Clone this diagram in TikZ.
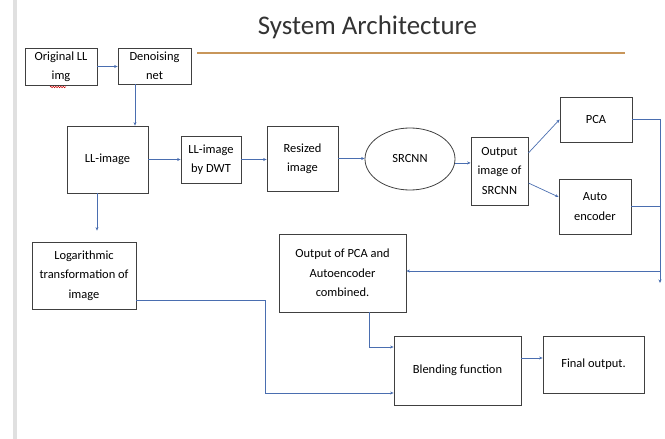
\documentclass[tikz,border=0pt]{standalone}
\usepackage{fontspec}
\setmainfont{Carlito}
\usetikzlibrary{arrows.meta,shapes.geometric,decorations.pathmorphing}
\definecolor{boxline}{RGB}{64,64,64}
\definecolor{conn}{RGB}{74,110,176}
\definecolor{rule}{RGB}{200,150,90}
\definecolor{sidebar}{RGB}{224,224,224}
\tikzset{
  blk/.style={draw=boxline,line width=0.8bp,rectangle,inner sep=0pt,align=center,
    font=\fontsize{12.5}{19.5}\selectfont},
  arr/.style={draw=conn,line width=0.7bp,-{Stealth[length=3.5bp,width=3bp]}},
  ln/.style={draw=conn,line width=0.7bp},
}
\begin{document}
\begin{tikzpicture}[x=1bp,y=-1bp]
\useasboundingbox (0,0) rectangle (665,439);
\fill[sidebar] (13,0) rectangle (17,439);
% title
\node[anchor=base,font=\fontsize{27}{32}\selectfont,text=black!80] (title) at (367.5,35) {System Architecture};
\draw[rule,line width=1.2bp] (197,53) -- (625,53);
% boxes
\node[blk,minimum width=72bp,minimum height=37bp] (orig) at (61,66.5) {Original LL\\img};
\node[blk,minimum width=73bp,minimum height=36bp] (den) at (154.5,66) {Denoising\\net};
\node[blk,minimum width=81bp,minimum height=67bp] (ll) at (107.5,159.5) {LL-image};
\node[blk,minimum width=60bp,minimum height=47bp] (dwt) at (211,159.5) {LL-image\\by DWT};
\node[blk,minimum width=71bp,minimum height=65bp] (res) at (302.5,158.5) {Resized\\image};
\node[blk,ellipse,minimum width=90bp,minimum height=62bp] (srcnn) at (410,159) {SRCNN};
\node[blk,minimum width=57bp,minimum height=68bp] (out) at (499.5,171) {Output\\image of\\SRCNN};
\node[blk,minimum width=72bp,minimum height=45bp] (pca) at (596,119.5) {PCA};
\node[blk,minimum width=72bp,minimum height=55bp] (auto) at (595,206.5) {Auto\\encoder};
\node[blk,minimum width=104bp,minimum height=67bp] (log) at (84,275.5) {Logarithmic\\transformation of\\image};
\node[blk,minimum width=127bp,minimum height=78bp] (comb) at (342.5,273) {Output of PCA and\\Autoencoder\\combined.};
\node[blk,minimum width=127bp,minimum height=69bp] (blend) at (457.5,370.5) {Blending function};
\node[blk,minimum width=101bp,minimum height=57bp] (final) at (593.5,364.5) {Final output.};
% spell-check squiggle under "img"
\draw[red!80!black,line width=0.5bp,decorate,decoration={snake,amplitude=0.7bp,segment length=2.5bp}] (50,87) -- (66,87);
% connectors
\draw[arr] (orig.east) -- (den.west |- orig.east);
\draw[arr] ([xshift=-19.5bp]den.south) -- ([xshift=-19.5bp]den.south |- ll.north);
\draw[arr] (ll.east) -- (dwt.west);
\draw[arr] (dwt.east) -- (res.west |- dwt.east);
\draw[arr] (res.east) -- (srcnn.west |- res.east);
\draw[arr] (srcnn.-5) -- (out.west |- srcnn.-5);
\draw[arr] ([yshift=18bp]out.east) -- (pca.west);
\draw[arr] ([yshift=-12bp]out.east) -- ([yshift=9.5bp]auto.west);
\coordinate (rt) at (660,283);
\coordinate (rh) at (660,271);
\draw[arr] (pca.east) -| (rt);
\draw[ln] (auto.east) -- (auto.east -| rt);
\draw[arr] (rh) -- (comb.east |- rh);
\draw[arr,shorten >=11bp] ([xshift=-10.5bp]ll.south) -- ([xshift=-10.5bp]ll.south |- log.north);
\coordinate (lb) at (265,393);
\draw[arr] ([yshift=-24.5bp]log.east) -| (lb) -- (blend.west |- lb);
\draw[arr] ([xshift=26.5bp]comb.south) |- ([yshift=23.5bp]blend.west);
\coordinate (cf) at ([yshift=6.5bp]final.west);
\draw[arr] (blend.east |- cf) -- (cf);
\end{tikzpicture}
\end{document}
